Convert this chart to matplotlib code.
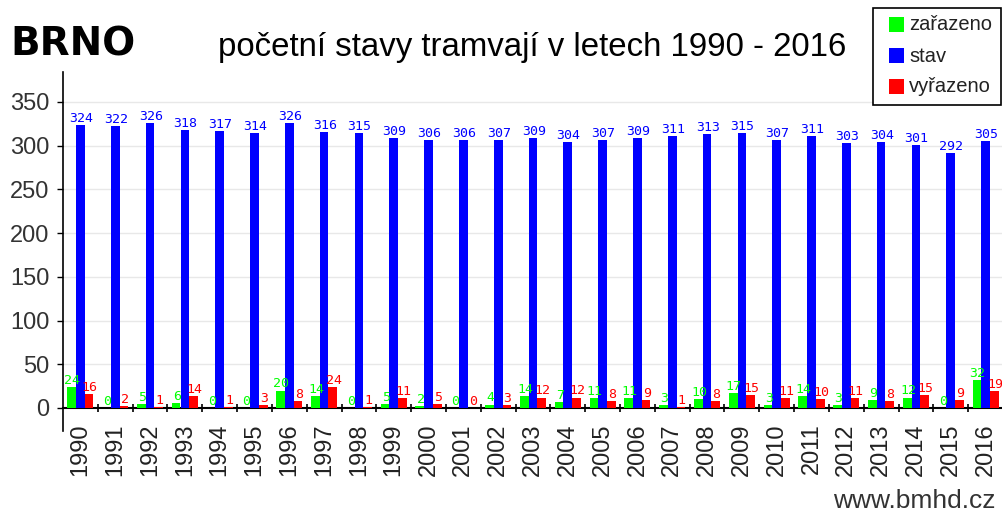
import matplotlib
matplotlib.use("Agg")
import matplotlib.pyplot as plt
import numpy as np
from matplotlib.patches import Rectangle
from matplotlib.lines import Line2D

years = [str(y) for y in range(1990, 2017)]
zarazeno = [24, 0, 5, 6, 0, 0, 20, 14, 0, 5, 2, 0, 4, 14, 7, 11, 11, 3, 10, 17, 3, 14, 3, 9, 12, 0, 32]
stav = [324, 322, 326, 318, 317, 314, 326, 316, 315, 309, 306, 306, 307, 309, 304, 307, 309, 311, 313, 315,
        307, 311, 303, 304, 301, 292, 305]
vyrazeno = [16, 2, 1, 14, 1, 3, 8, 24, 1, 11, 5, 0, 3, 12, 12, 8, 9, 1, 8, 15, 11, 10, 11, 8, 15, 9, 19]
series_names = ["zařazeno", "stav", "vyřazeno"]
series_colors = ["#00ff00", "#0000ff", "#ff0000"]
yticks = [0, 50, 100, 150, 200, 250, 300, 350]

W, H = 1003, 515
fig = plt.figure(figsize=(W / 100, H / 100), dpi=100)
fig.patch.set_facecolor("white")


def fx(x):
    return x / W


def fy(y):
    return 1 - y / H


ax_left, ax_right, ax_top, ax_bottom = 63, 1003, 72, 408
ax = fig.add_axes([fx(ax_left), fy(ax_bottom), fx(ax_right - ax_left), (ax_bottom - ax_top) / H])

n = len(years)
x = np.arange(n)
bw = 0.25
data = [zarazeno, stav, vyrazeno]
offsets = [-bw, 0, bw]
for vals, col, off in zip(data, series_colors, offsets):
    ax.bar(x + off, vals, width=bw, color=col, edgecolor="none", zorder=3)
    for xi, v in zip(x, vals):
        ax.annotate(str(v), (xi + off, v), xytext=(0.5, 2.2), textcoords="offset points",
                    ha="center", va="baseline", color=col, fontsize=9.5,
                    family="DejaVu Sans Mono", zorder=4, annotation_clip=False)

ax.set_xlim(-0.5, -0.5 + (ax_right - ax_left) / 35.0)
ax.set_ylim(0, 350 * (ax_bottom - ax_top) / 306.0)

ax.set_yticks(yticks)
ax.set_yticklabels([str(t) for t in yticks], fontsize=17, family="Liberation Sans", color="#333333")
ax.tick_params(axis="y", length=4.3, width=1, pad=5.5, color="black")
ax.yaxis.grid(True, color="#e8e8e8", linewidth=1, zorder=0)
ax.set_axisbelow(True)

ax.set_xticks(x)
ax.set_xticklabels(years, rotation=90, fontsize=17, family="Liberation Sans", color="#222222", va="top")
ax.tick_params(axis="x", which="major", length=0, pad=11)
ax.set_xticks(np.arange(n) + 0.5, minor=True)
ax.tick_params(axis="x", which="minor", direction="inout", length=6, width=1.2, color="black")

for s in ["top", "right"]:
    ax.spines[s].set_visible(False)
ax.spines["left"].set_linewidth(1.2)
ax.spines["bottom"].set_linewidth(1.5)

# extension of the left axis line below zero
fig.add_artist(Line2D([fx(ax_left), fx(ax_left)], [fy(ax_bottom), fy(431)], color="black", linewidth=1.2,
                      transform=fig.transFigure))

# titles
fig.text(fx(10), fy(55), "BRNO", fontsize=28, fontweight="bold", family="DejaVu Sans", color="black",
         ha="left", va="baseline")
fig.text(fx(218), fy(56), "početní stavy tramvají v letech 1990 - 2016", fontsize=23.8,
         family="Liberation Sans", color="black", ha="left", va="baseline")
fig.text(fx(996), fy(508), "www.bmhd.cz", fontsize=19, family="Liberation Sans", color="#333333",
         ha="right", va="baseline")

# legend box
fig.add_artist(Rectangle((fx(873), fy(105)), fx(1001 - 873), (105 - 8) / H, transform=fig.transFigure,
                         facecolor="white", edgecolor="black", linewidth=1.2, zorder=10))
row_y = [25, 56, 87]
for name, col, yy in zip(series_names, series_colors, row_y):
    fig.add_artist(Rectangle((fx(889), fy(yy + 7)), fx(15), 15 / H, transform=fig.transFigure,
                             facecolor=col, edgecolor="none", zorder=11))
    fig.text(fx(909), fy(yy), name, fontsize=14.5, family="Liberation Sans", color="#222222",
             ha="left", va="center", zorder=12)

fig.savefig("out.png", dpi=100)
